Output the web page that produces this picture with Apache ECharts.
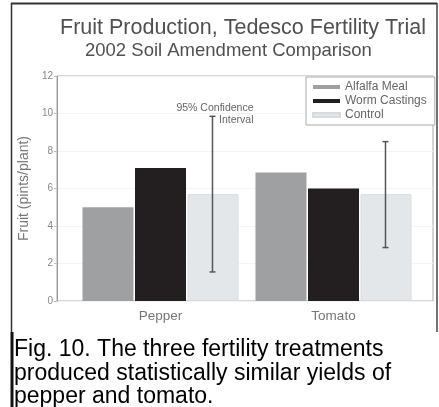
<!DOCTYPE html>
<html><head><meta charset="utf-8">
<script src="https://cdn.jsdelivr.net/npm/echarts@6/dist/echarts.min.js"></script>
<style>html,body{margin:0;padding:0;background:#fff}#c{width:439px;height:407px}</style>
</head><body><div id="c"></div>
<script>
const categories = ['Pepper', 'Tomato'];
const seriesNames = ['Alfalfa Meal', 'Worm Castings', 'Control'];
const alfalfa = [5.0, 6.85];
const worm = [7.1, 6.0];
const control = [5.7, 5.7];
const ciLow = [1.55, 2.85];
const ciHigh = [9.85, 8.5];
const yTicks = [0, 2, 4, 6, 8, 10, 12];
const captionLines = ['Fig. 10. The three fertility treatments', 'produced statistically similar yields of', 'pepper and tomato.'];

const colors = ['#9fa0a1', '#231f20', '#e4e7ea'];
const BAR_W = 51, GAP = 1.5;
const chart = echarts.init(document.getElementById('c'), null, {renderer: 'canvas'});
const font = 'Liberation Sans, Arial, sans-serif';

chart.setOption({
  animation: false,
  backgroundColor: '#fff',
  title: [
    {text: 'Fruit Production, Tedesco Fertility Trial', left: 60, top: 17, padding: 0,
     textStyle: {fontFamily: font, fontSize: 21.5, fontWeight: 'normal', color: '#505050'}},
    {text: '2002 Soil Amendment Comparison', left: 85, top: 41, padding: 0,
     textStyle: {fontFamily: font, fontSize: 18.5, fontWeight: 'normal', color: '#505050'}}
  ],
  legend: {
    orient: 'vertical', left: 306, top: 77, itemWidth: 27, itemHeight: 4, itemGap: 2,
    icon: 'rect', backgroundColor: '#fff', borderColor: '#aaa', borderWidth: 1,
    padding: [4, 8, 4, 6], borderRadius: 0,
    textStyle: {fontFamily: font, fontSize: 12, color: '#666', lineHeight: 12},
    data: seriesNames
  },
  grid: [
    {left: 57, top: 76, width: 376, height: 225, show: true, borderColor: '#aaa', borderWidth: 1, backgroundColor: 'transparent'},
    {left: 74, top: 76, width: 346, height: 225}
  ],
  xAxis: [
    {gridIndex: 0, type: 'category', data: [''], show: false},
    {gridIndex: 1, type: 'category', data: categories,
     axisLine: {show: false}, axisTick: {show: false},
     axisLabel: {fontFamily: font, fontSize: 13.5, color: '#777', margin: 8}}
  ],
  yAxis: [
    {gridIndex: 0, type: 'value', min: yTicks[0], max: yTicks[yTicks.length - 1], interval: 2,
     name: 'Fruit (pints/plant)', nameLocation: 'middle', nameGap: 26,
     nameTextStyle: {fontFamily: font, fontSize: 14, color: '#777'},
     axisLine: {show: true, lineStyle: {color: '#999'}},
     axisTick: {show: true, length: 3, lineStyle: {color: '#bbb'}},
     axisLabel: {fontFamily: font, fontSize: 10, color: '#888', margin: 4},
     splitLine: {show: true, lineStyle: {color: '#f4f4f4'}}},
    {gridIndex: 1, type: 'value', min: yTicks[0], max: yTicks[yTicks.length - 1], show: false}
  ],
  series: [
    {name: seriesNames[0], type: 'bar', xAxisIndex: 1, yAxisIndex: 1, data: alfalfa, barWidth: BAR_W, barGap: '3%', itemStyle: {color: colors[0]}},
    {name: seriesNames[1], type: 'bar', xAxisIndex: 1, yAxisIndex: 1, data: worm, barWidth: BAR_W, barGap: '3%', itemStyle: {color: colors[1]}},
    {name: seriesNames[2], type: 'bar', xAxisIndex: 1, yAxisIndex: 1, data: control, barWidth: BAR_W, barGap: '3%', itemStyle: {color: colors[2], borderColor: '#d8dbde', borderWidth: 1}},
    {type: 'custom', xAxisIndex: 1, yAxisIndex: 1, z: 10,
     data: categories.map((c, i) => [i, ciLow[i], ciHigh[i]]),
     renderItem: function (params, api) {
       const i = api.value(0);
       const lo = api.coord([i, api.value(1)]);
       const hi = api.coord([i, api.value(2)]);
       const x = lo[0] + BAR_W + GAP * 0.66;
       const cap = 3;
       const st = {stroke: '#555', lineWidth: 1.5};
       const children = [
         {type: 'line', shape: {x1: x, y1: hi[1], x2: x, y2: lo[1]}, style: st},
         {type: 'line', shape: {x1: x - cap, y1: hi[1], x2: x + cap, y2: hi[1]}, style: st},
         {type: 'line', shape: {x1: x - cap, y1: lo[1], x2: x + cap, y2: lo[1]}, style: st}
       ];
       if (params.dataIndex === 0) {
         children.push({type: 'text', style: {text: '95% Confidence\nInterval', x: x + 41, y: hi[1] - 14,
           align: 'right', verticalAlign: 'top', font: '10.5px ' + font, fill: '#666', lineHeight: 12}});
       }
       return {type: 'group', children: children};
     }}
  ],
  graphic: [
    {type: 'line', shape: {x1: 11, y1: 3.5, x2: 437, y2: 3.5}, style: {stroke: '#333', lineWidth: 2}},
    {type: 'line', shape: {x1: 11.5, y1: 3, x2: 11.5, y2: 332}, style: {stroke: '#333', lineWidth: 1.5}},
    {type: 'line', shape: {x1: 437, y1: 3, x2: 437, y2: 332}, style: {stroke: '#444', lineWidth: 1.5}},
    {type: 'line', shape: {x1: 12, y1: 332, x2: 12, y2: 407}, style: {stroke: '#111', lineWidth: 3}},
    {type: 'text', left: 14, top: 338, style: {text: captionLines.join('\n'), font: '23px ' + font, fill: '#000', lineHeight: 23.5}}
  ]
});
</script></body></html>
